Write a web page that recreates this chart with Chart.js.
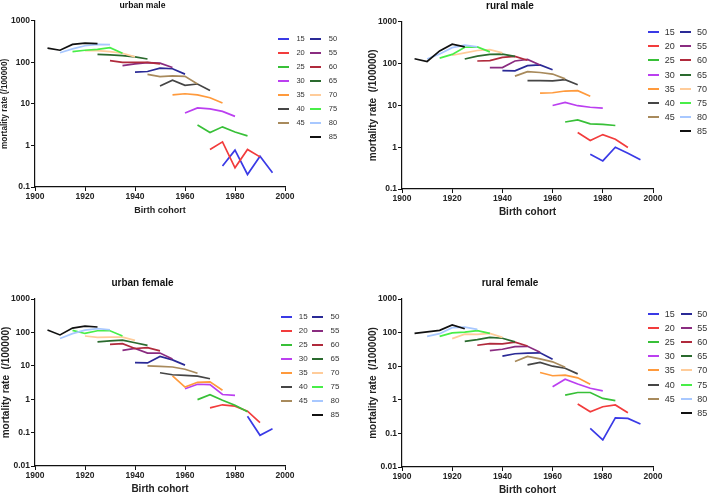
<!DOCTYPE html>
<html>
<head>
<meta charset="utf-8">
<script src="https://cdn.jsdelivr.net/npm/chart.js@4.4.1/dist/chart.umd.min.js"></script>
<style>
  html, body { margin: 0; padding: 0; background: #fff; width: 708px; height: 493px; overflow: hidden; }
  body { position: relative; font-family: 'Liberation Sans', Arial, sans-serif; }
  canvas { position: absolute; }
  .leg { position: absolute; color: #333; }
  .leg-item { position: absolute; height: 10px; line-height: 10px; white-space: nowrap; }
  .leg-item i { position: absolute; left: 0; top: 4px; width: 11px; height: 2px; }
  .leg-item span { position: absolute; top: 0; }
</style>
</head>
<body>
<canvas id="c0" width="300" height="217" style="left:0;top:0"></canvas>
<canvas id="c1" width="301" height="219" style="left:367px;top:0"></canvas>
<canvas id="c2" width="300" height="219" style="left:0;top:277px"></canvas>
<canvas id="c3" width="301" height="220" style="left:367px;top:277px"></canvas>
<div class="leg" id="l0"></div>
<div class="leg" id="l1"></div>
<div class="leg" id="l2"></div>
<div class="leg" id="l3"></div>
<script>
const FONT = "'Liberation Sans', Arial, sans-serif";

// age groups (legend) and survey periods; cohort = period - age
const ages = [15, 20, 25, 30, 35, 40, 45, 50, 55, 60, 65, 70, 75, 80, 85];
const periods = [1990, 1995, 2000, 2005, 2010];
const ageColors = ['#3a3ae6', '#f23c3c', '#38c038', '#bb3ff0', '#ff9a3c', '#454545', '#a88a5c',
                   '#2a2a96', '#8a2c80', '#b02a3c', '#2a6a2e', '#ffcc9a', '#48ee48', '#a8c8ff', '#111111'];
const xTicks = [1900, 1920, 1940, 1960, 1980, 2000];
const yTicksMale = [0.1, 1, 10, 100, 1000];
const yTicksFemale = [0.01, 0.1, 1, 10, 100, 1000];

// mortality rate per 100000, one row per age group, one value per period
const urbanMale = [
  [0.32, 0.77, 0.2, 0.55, 0.22],
  [0.8, 1.22, 0.29, 0.8, 0.53],
  [3.1, 2.05, 2.8, 2.1, 1.7],
  [6, 8, 7.6, 6.6, 5],
  [16.5, 17.5, 16.5, 14, 10.5],
  [27, 37, 28, 30, 21],
  [51, 45, 47, 46, 30],
  [58, 60, 72, 70, 52],
  [83, 92, 98, 95, 75],
  [110, 100, 100, 100, 92],
  [155, 150, 145, 135, 120],
  [190, 190, 180, 165, 135],
  [180, 195, 205, 225, 165],
  [170, 210, 250, 270, 265],
  [220, 195, 270, 290, 280]
];
const ruralMale = [
  [0.68, 0.47, 1.0, 0.72, 0.5],
  [2.25, 1.45, 2.0, 1.55, 0.98],
  [4.0, 4.5, 3.6, 3.5, 3.3],
  [9.9, 11.7, 9.8, 9.0, 8.6],
  [19.5, 20, 22, 22.5, 16.5],
  [39, 39, 38.5, 41, 31],
  [50, 64, 61, 56, 43],
  [68, 67, 89, 93, 71],
  [80, 80, 115, 125, 92],
  [115, 117, 140, 148, 120],
  [128, 150, 165, 168, 148],
  [158, 180, 205, 215, 180],
  [135, 165, 245, 250, 190],
  [128, 170, 240, 275, 250],
  [130, 112, 200, 290, 250]
];
const urbanFemale = [
  [null, null, 0.31, 0.083, 0.13],
  [0.55, 0.68, 0.62, 0.44, 0.2],
  [0.97, 1.37, 0.93, 0.66, 0.42],
  [2.05, 2.8, 2.75, 1.38, 1.3],
  [5.0, 2.3, 3.2, 3.3, 1.85],
  [6.2, 5.4, 5.2, 4.9, 4.1],
  [9.9, 9.6, 9.2, 7.9, 6.0],
  [12.4, 12.2, 19, 15, 10.5],
  [29, 33, 24, 24, 16],
  [44, 46, 33, 35, 28],
  [52, 56, 59, 49, 41],
  [78, 71, 72, 72, 58],
  [115, 93, 112, 112, 78],
  [66, 92, 117, 130, 120],
  [118, 84, 135, 155, 145]
];
const ruralFemale = [
  [0.14, 0.064, 0.29, 0.28, 0.19],
  [0.75, 0.44, 0.62, 0.7, 0.41],
  [1.38, 1.65, 1.65, 1.1, 0.95],
  [2.45, 4.1, 2.95, 2.2, 1.85],
  [6.5, 5.2, 5.4, 4.5, 2.9],
  [11, 13, 10, 8.7, 5.9],
  [13.8, 19.5, 16.5, 13.5, 9.3],
  [20, 23.5, 24.5, 25, 16],
  [29, 32, 38, 39, 26],
  [42, 47, 46, 52, 40],
  [55, 62, 72, 68, 53],
  [66, 90, 88, 95, 72],
  [77, 98, 103, 115, 95],
  [77, 93, 140, 145, 125],
  [95, 105, 117, 170, 130]
];

const panels = [
  { cv: 'c0', leg: 'l0', title: 'urban male', rates: urbanMale, yTicks: yTicksMale,
    titleSize: 8.6, titleGap: 10.4, yTitle: 'mortality rate (/100000)', yTitleSize: 8.3, xTitleSize: 9,
    legPos: [278, 33.7], legFont: 7.5, legText: 18.4, legCol: 32.4 },
  { cv: 'c1', leg: 'l1', title: 'rural male', rates: ruralMale, yTicks: yTicksMale,
    titleSize: 10, titleGap: 9.7, yTitle: 'mortality rate  (/100000)', yTitleSize: 10, xTitleSize: 10,
    legPos: [648, 27.3], legFont: 9, legText: 16.7, legCol: 32.4 },
  { cv: 'c2', leg: 'l2', title: 'urban female', rates: urbanFemale, yTicks: yTicksFemale,
    titleSize: 10, titleGap: 10, yTitle: 'mortality rate  (/100000)', yTitleSize: 10, xTitleSize: 10,
    legPos: [280.5, 311.7], legFont: 8, legText: 18.3, legCol: 31.7 },
  { cv: 'c3', leg: 'l3', title: 'rural female', rates: ruralFemale, yTicks: yTicksFemale,
    titleSize: 10, titleGap: 10, yTitle: 'mortality rate  (/100000)', yTitleSize: 10, xTitleSize: 10,
    legPos: [648, 309], legFont: 9, legText: 16.7, legCol: 32.6 }
];

const tickFont = { family: FONT, size: 8.5, weight: 'bold' };

function makeChart(p) {
  const datasets = ages.map((a, i) => ({
    label: String(a),
    data: periods.map((yr, k) => ({ x: yr - a, y: p.rates[i][k] })).filter(d => d.y != null),
    borderColor: ageColors[i],
    backgroundColor: ageColors[i],
    borderWidth: 1.7,
    pointRadius: 0,
    tension: 0,
    order: ages.length - i
  }));

  new Chart(document.getElementById(p.cv), {
    type: 'line',
    data: { datasets },
    options: {
      responsive: false, animation: false,
      layout: { padding: { left: 0, right: 15, top: 0, bottom: 0 } },
      plugins: {
        legend: { display: false },
        tooltip: { enabled: false },
        title: { display: true, text: p.title, color: '#111',
                 font: { family: FONT, size: p.titleSize, weight: 'bold' },
                 padding: { top: 0, bottom: p.titleGap } }
      },
      scales: {
        x: {
          type: 'linear', min: 1900, max: 2000,
          afterFit: s => { s.height = 30; },
          afterBuildTicks: s => { s.ticks = xTicks.map(v => ({ value: v })); },
          ticks: { color: '#222', font: tickFont, padding: 1, maxRotation: 0, callback: v => String(v) },
          grid: { drawOnChartArea: false, drawTicks: true, tickLength: 4, color: '#111', lineWidth: 1 },
          border: { color: '#111', width: 1.2 },
          title: { display: true, text: 'Birth cohort', color: '#222',
                   font: { family: FONT, size: p.xTitleSize, weight: 'bold' }, padding: { top: 0, bottom: 1 } }
        },
        y: {
          type: 'logarithmic', min: p.yTicks[0], max: 1000,
          afterFit: s => { s.width = 35; },
          afterBuildTicks: s => { s.ticks = p.yTicks.map(v => ({ value: v })); },
          ticks: { color: '#222', font: tickFont, padding: 1, callback: v => String(v) },
          grid: { drawOnChartArea: false, drawTicks: true, tickLength: 4, color: '#111', lineWidth: 1 },
          border: { color: '#111', width: 1.2 },
          title: { display: true, text: p.yTitle, color: '#222',
                   font: { family: FONT, size: p.yTitleSize, weight: 'bold' }, padding: { top: 0, bottom: 0 } }
        }
      }
    }
  });

  // two-column legend: 15-45 on the left, 50-85 on the right
  const box = document.getElementById(p.leg);
  box.style.left = p.legPos[0] + 'px';
  box.style.top = p.legPos[1] + 'px';
  box.style.fontSize = p.legFont + 'px';
  box.innerHTML = ages.map((a, i) => {
    const col = i < 7 ? 0 : 1;
    const row = i < 7 ? i : i - 7;
    return `<div class="leg-item" style="left:${col * p.legCol}px;top:${row * 14.1}px">` +
           `<i style="background:${ageColors[i]}"></i><span style="left:${p.legText}px">${a}</span></div>`;
  }).join('');
}

panels.forEach(makeChart);
</script>
</body>
</html>
